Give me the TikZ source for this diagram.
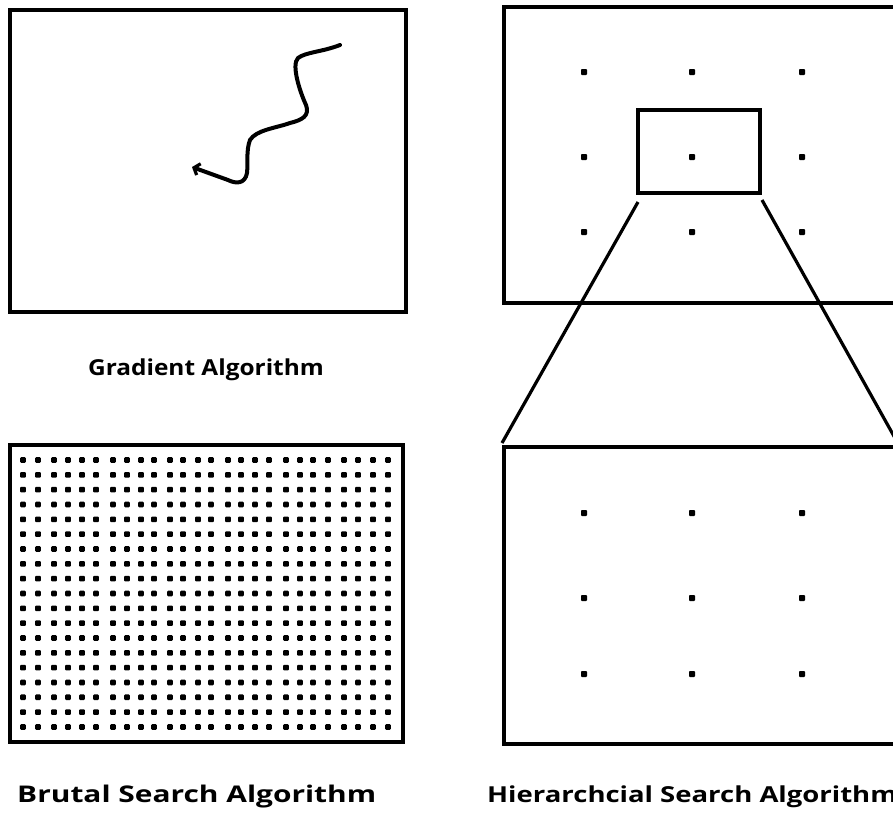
\documentclass[tikz,border=0pt]{standalone}
\usepackage{fontspec}
\setmainfont{Open Sans}
\usetikzlibrary{arrows.meta}
\begin{document}
\begin{tikzpicture}[x=1pt,y=-1pt,
  panel/.style={draw=black,line width=3.4pt,rectangle,inner sep=0pt,outer sep=0pt},
  link/.style={draw=black,line width=3.2pt},
  pt/.style={fill=black,rounded corners=0.9pt},
  lbl/.style={inner sep=0pt}]
\useasboundingbox (0,0) rectangle (893,815);
\clip (0,0) rectangle (893,815);
\fill[white] (0,0) rectangle (893,815);

% panels
\node[panel,minimum width=396pt,minimum height=302pt] (grad) at (208,161) {};
\node[panel,minimum width=393pt,minimum height=297pt] (brute) at (206.5,593.5) {};
\node[panel,minimum width=396pt,minimum height=296pt] (coarse) at (702,155) {};
\node[panel,minimum width=396pt,minimum height=297pt] (fine) at (702,595.5) {};
\node[panel,minimum width=122pt,minimum height=83pt] (zoomwin) at (699,151.5) {};

% zoom connectors
\draw[link] ([yshift=-9pt]zoomwin.south west) -- ([xshift=-2pt,yshift=4pt]fine.north west);
\draw[link] ([xshift=2pt,yshift=-7pt]zoomwin.south east) -- (fine.north east);

% gradient path
\draw[line width=4pt,line cap=round,-{Straight Barb[length=5pt,width=12pt,line width=3.2pt]}]
  (340,45) .. controls (322,52) and (306,52) .. (298,58)
  .. controls (291,65) and (300,92) .. (306,105)
  .. controls (310,116) and (302,120) .. (290,123)
  .. controls (276,128) and (256,130) .. (250,140)
  .. controls (246,150) and (248,165) .. (247,173)
  .. controls (245,184) and (236,184) .. (228,180)
  -- (192,167);

% coarse grid points
\foreach \x in {584,692,802}
  \foreach \y in {72,157,232}
    \fill[pt] (\x-3,\y-3) rectangle (\x+3,\y+3);

% fine grid points
\foreach \x in {584,692,802}
  \foreach \y in {513,598,674}
    \fill[pt] (\x-3,\y-3) rectangle (\x+3,\y+3);

% exhaustive grid points
\foreach \x in {23,38,54,68,82,96,113,127,141,154,170,183,198,211,228,241,255,269,286,300,313,328,344,358,373,388}
  \foreach \i in {0,...,18}
    \fill[pt] (\x-2.8,460+\i*14.83-2.8) rectangle (\x+2.8,460+\i*14.83+2.8);

% labels
\node[lbl,anchor=base,font=\fontsize{22}{25}\selectfont\bfseries] (glabel) at (206,375) {\scalebox{1.11}[1]{Gradient Algorithm}};
\node[lbl,anchor=base west,font=\fontsize{23}{26}\selectfont\bfseries] (blabel) at (17,802) {\scalebox{1.30}[1]{Brutal Search Algorithm}};
\node[lbl,anchor=base west,font=\fontsize{22}{25}\selectfont\bfseries] (hlabel) at (487,802) {\scalebox{1.25}[1]{Hierarchcial Search Algorithm}};
\end{tikzpicture}
\end{document}
